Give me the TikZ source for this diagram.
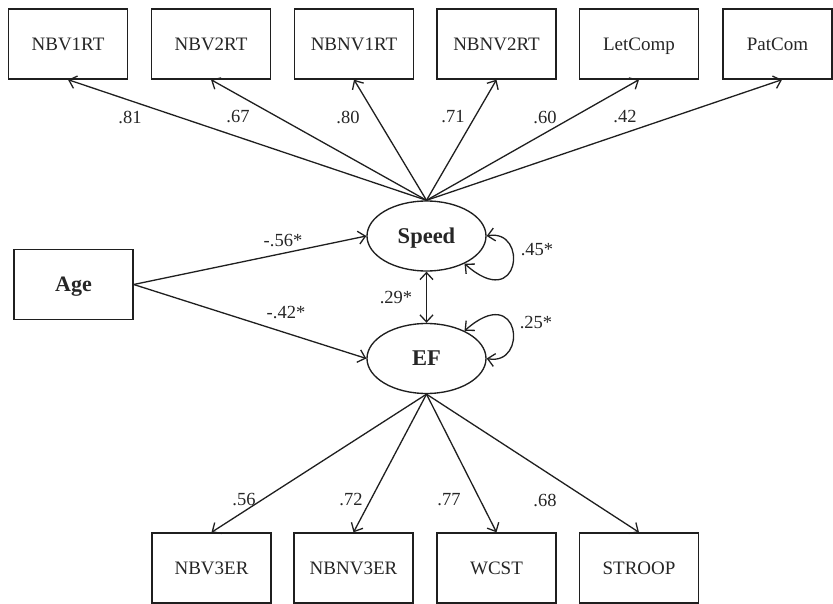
\documentclass[tikz,border=0pt]{standalone}
\usepackage{fontspec}
\setmainfont{Liberation Serif}
\usetikzlibrary{shapes.geometric,arrows.meta}
\begin{document}
\begin{tikzpicture}[x=1pt,y=-1pt,
  ink/.style={draw=black!88, line width=1.35pt},
  measure/.style={ink, rectangle, minimum width=119pt, minimum height=70pt,
    inner sep=0pt, text height=12.5pt, text depth=0pt,
    font=\fontsize{19}{22}\selectfont, text=black!85},
  agebox/.style={measure, text height=14.5pt, font=\fontsize{22}{26}\selectfont\bfseries},
  factor/.style={ink, ellipse, minimum width=119pt, minimum height=70pt,
    inner sep=0pt, text height=14.5pt, text depth=0pt,
    font=\fontsize{22.5}{26}\selectfont\bfseries, text=black!85},
  coef/.style={font=\fontsize{18.5}{22}\selectfont, text=black!85, inner sep=0pt},
  barb/.tip={Straight Barb[length=7pt,width=13pt]},
  load/.style={line width=1.3pt, draw=black!88, -barb},
  covar/.style={line width=1.3pt, draw=black!88, barb-barb}
]
% canvas
\fill[white] (0,0) rectangle (833,604);
\useasboundingbox (0,0) rectangle (833,604);

% indicator boxes, top row
\node[measure] (nbv1rt)  at (68,44)    {NBV1RT};
\node[measure] (nbv2rt)  at (211,44)   {NBV2RT};
\node[measure] (nbnv1rt) at (354,44)   {NBNV1RT};
\node[measure] (nbnv2rt) at (496.5,44) {NBNV2RT};
\node[measure] (letcomp) at (639,44)   {LetComp};
\node[measure, minimum width=109pt] (patcom) at (777.5,44) {PatCom};

% latent factors and predictor
\node[factor] (speed) at (426.5,236)   {Speed};
\node[factor] (ef)    at (426.5,358.5) {EF};
\node[agebox] (age)   at (73.5,284.5)  {Age};

% indicator boxes, bottom row
\node[measure] (nbv3er)  at (211.5,568) {NBV3ER};
\node[measure] (nbnv3er) at (353.5,568) {NBNV3ER};
\node[measure] (wcst)    at (496.5,568) {WCST};
\node[measure] (stroop)  at (639,568)   {STROOP};

% loadings of Speed
\draw[load] (speed.north) -- (nbv1rt.south);
\draw[load] (speed.north) -- (nbv2rt.south);
\draw[load] (speed.north) -- (nbnv1rt.south);
\draw[load] (speed.north) -- (nbnv2rt.south);
\draw[load] (speed.north) -- (letcomp.south);
\draw[load] (speed.north) -- ([xshift=4.5pt]patcom.south);

% loadings of EF
\draw[load] (ef.south) -- (nbv3er.north);
\draw[load] (ef.south) -- (nbnv3er.north);
\draw[load] (ef.south) -- (wcst.north);
\draw[load] (ef.south) -- (stroop.north);

% regressions on age
\draw[load] (age.east) -- (speed.west);
\draw[load] (age.east) -- (ef.west);

% factor covariance and residual variances
\draw[covar] (speed.south) -- (ef.north);
\draw[covar] (speed.east) .. controls +(42,-8) and +(56,50) .. (speed.-36);
\draw[covar] (ef.36) .. controls +(56,-50) and +(42,8) .. (ef.east);

% coefficients
\node[coef] (c81) at (130,117) {.81};
\node[coef] (c67) at (238,117) {.67};
\node[coef] (c80) at (348,117) {.80};
\node[coef] (c71) at (453,117) {.71};
\node[coef] (c60) at (545,117) {.60};
\node[coef] (c42) at (625,117) {.42};

\node[coef] (c56s) at (283,241) {-.56*};
\node[coef] (c42s) at (286,313) {-.42*};
\node[coef] (c29s) at (396,298) {.29*};
\node[coef] (c45s) at (537,250) {.45*};
\node[coef] (c25s) at (536,323) {.25*};

\node[coef] (c56) at (244,500) {.56};
\node[coef] (c72) at (351,500) {.72};
\node[coef] (c77) at (449,500) {.77};
\node[coef] (c68) at (545,500) {.68};
\end{tikzpicture}
\end{document}
